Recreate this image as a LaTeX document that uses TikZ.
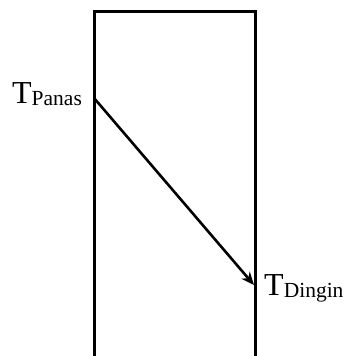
\documentclass[tikz,border=0pt]{standalone}
\usepackage{fontspec}
\setmainfont{Liberation Serif}
\usepackage{tikz}
\usetikzlibrary{arrows.meta}
\newcommand{\templabel}[1]{%
  {\fontsize{32}{32}\selectfont T}\raisebox{-2pt}{\fontsize{21.5}{21.5}\selectfont #1}%
}
\tikzset{
  wall/.style={line width=3pt,line cap=rect},
  flow/.style={line width=2.6pt,-{Stealth[length=13pt,width=11pt]}},
  templbl/.style={anchor=base west,inner sep=0pt}
}

\begin{document}
\begin{tikzpicture}[x=1pt,y=-1pt]
  \useasboundingbox (0,0) rectangle (347,356);
  % box, open at the bottom
  \draw[wall] (94,356) -- (94,11.5) -- (255,11.5) -- (255,356);
  \coordinate (hot) at (94,98);
  \coordinate (cold) at (254,285);
  \node[templbl] (tpanas) at (12,103) {\templabel{Panas}};
  \node[templbl] (tdingin) at (264,295) {\templabel{Dingin}};
  \draw[flow] (hot) -- (cold);
\end{tikzpicture}
\end{document}
